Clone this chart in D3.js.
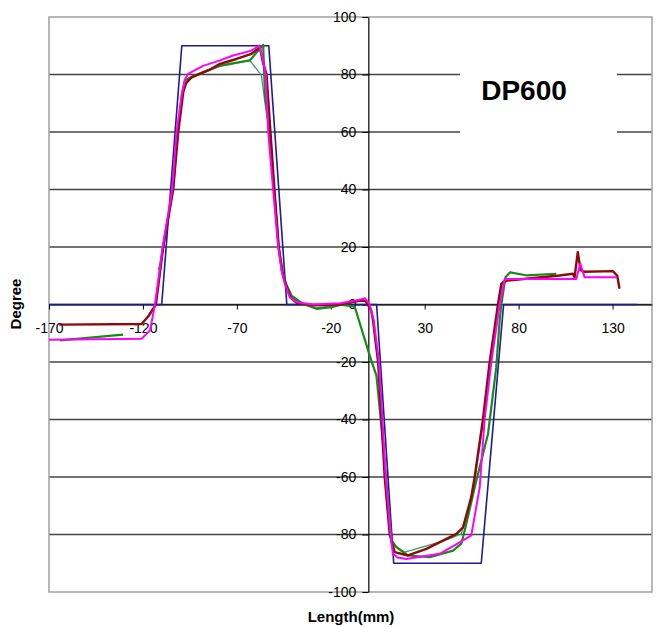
<!DOCTYPE html>
<html>
<head>
<meta charset="utf-8">
<script src="https://cdn.jsdelivr.net/npm/d3@7/dist/d3.min.js"></script>
<style>
  body { margin: 0; background: #fff; }
  svg { display: block; font-family: Arial, "Liberation Sans", sans-serif; }
</style>
</head>
<body>
<div id="chart"></div>
<script>
// ===========================
// DP600 angle profile (Degree vs Length)
// ===========================

const xTicks = [-170, -120, -70, -20, 30, 80, 130];
const yTicks = [-100, -80, -60, -40, -20, 0, 20, 40, 60, 80, 100];

// target shape
const blueData = [[-170, 0], [-110, 0], [-99.3, 90], [-53, 90], [-43.4, 0], [4.4, 0],
  [13.5, -90], [60.1, -90], [72, 0], [142.8, 0]];

const greenData = [[-164.1, -12.5], [-130.6, -10.5], null,
  [-111.5, 12], [-110.6, 14.3], [-108, 25], [-104, 40], [-101.5, 60], [-99, 74], [-97.7, 78],
  [-92.3, 79.7], [-79, 83.1], [-63.1, 84.9], [-56, 90.3], [-55, 72.7], [-52.5, 60],
  [-50.2, 40], [-47.8, 20], [-45.5, 11], [-43.9, 7.3], [-40.9, 3.1], [-34.7, 0.2],
  [-27.6, -1.5], [-19.6, -0.9], [-14.3, -0.1], [-7.3, -0.7], [0.7, -17.7], [3.4, -23],
  [4.3, -24.7], [7, -42.7], [10.5, -68.2], [12.3, -82], [14.9, -84.4], [21.1, -87.3],
  [32.7, -87.9], [45.1, -85.6], [49.5, -83.2], [51.3, -78.6], [57.5, -61.2], [63.7, -45],
  [68.1, -21.8], [69.9, -5.6], [70.8, 0], [73, 9.5], [75.5, 11.2], [84.5, 10.1], [100, 10.7]];

const green2Data = [[-97, 78], [-92, 79.5], [-79, 82.8], [-63.1, 84.9], [-56.9, 79.7],
  [-55, 70], [-52.8, 60], [-50.3, 40], [-47.9, 20], [-45.6, 11], [-44, 7], [-41, 2.8],
  [-36, 0.3], [-28, -1.2], [-20, -0.6], [-15, 0], [-4.6, 1.2], [-1.5, 1], [1.5, -2],
  [2.7, -6], [5.3, -20], [7.1, -40], [8.8, -60], [11, -78], [12.3, -83.3], [19.4, -86.1],
  [40.6, -82.1], [49.5, -79.8], [53, -72], [56.9, -60], [61.3, -40], [64.8, -20],
  [69.2, 0], [71.5, 8], [74, 9]];

const redData = [[-164.5, -7], [-120.7, -6.8], [-117, -4], [-113.1, 0], [-109.2, 20],
  [-103.9, 40], [-101.2, 60], [-98.5, 74], [-97, 77], [-94.1, 79], [-85, 81.5],
  [-79, 83.7], [-70.2, 85.4], [-62.2, 87.2], [-57.8, 89.5], [-56, 84], [-54.2, 80],
  [-52.1, 60], [-50, 40], [-47.7, 20], [-45.8, 11], [-44, 7], [-41.5, 2.5], [-38, 0.5],
  [-29, -0.3], [-15, 0], [-4.6, 1.4], [-1.5, 1.3], [1.5, -2], [2.5, -5.6], [5.2, -20],
  [7, -40], [8.7, -60], [11.4, -80], [14, -86.1], [21.1, -87.3], [30.9, -85],
  [46.9, -79.8], [50.4, -77.5], [54.8, -67], [56.6, -60], [61, -40], [64.6, -20], [69, 0],
  [70.8, 7.2], [73.5, 8.3], [101.8, 10.1], [108.9, 10.7], [109.8, 9.5], [111.5, 18.2],
  [113, 12], [114.5, 11.4], [130.2, 11.6], [132.5, 10], [133.7, 5.5]];

const magentaData = [[-170, -12.3], [-120.7, -11.9], [-116.2, -9], [-113.6, 0],
  [-109.5, 20], [-104.4, 40], [-102.1, 60], [-99.4, 72.7], [-97.5, 78.5], [-95.9, 80.2],
  [-88, 83], [-79, 84.9], [-72, 86.6], [-62.2, 88.3], [-58.1, 90.1], [-56, 85],
  [-54.7, 80], [-53.3, 60], [-50.7, 40], [-48, 20], [-46.2, 11.8], [-44.5, 7.3],
  [-41.8, 2.5], [-38.2, 0.8], [-29.4, 0], [-15, 0.4], [-5, 1.6], [-1.9, 2.2], [0.7, 0],
  [2.9, -5.6], [5.7, -20], [7.5, -40], [9.3, -60], [11.8, -80], [13.1, -86.7],
  [15.5, -88], [20.2, -88.5], [38, -86.7], [48.6, -82.7], [54.8, -80.3], [59.3, -63.5],
  [61.9, -40], [65.5, -20], [69.9, 0], [72.6, 8.9], [110.7, 8.9], [112.8, 14.2],
  [115.1, 9.5], [132, 9.5]];

(function () {
  const width = 658, height = 627;
  const left = 49, right = 652, top = 17, bottom = 592;

  const svg = d3.select("#chart").append("svg")
    .attr("width", width)
    .attr("height", height);

  const x = d3.scaleLinear().domain([-170, 151]).range([left, right]);
  const y = d3.scaleLinear().domain([-100, 100]).range([bottom, top]);

  // gridlines
  svg.append("g")
    .selectAll("line")
    .data(yTicks.filter(v => v > -100 && v < 100))
    .join("line")
    .attr("x1", left)
    .attr("x2", right)
    .attr("y1", d => y(d))
    .attr("y2", d => y(d))
    .style("stroke", "#444")
    .style("stroke-width", 1.3);

  // plot border
  svg.append("rect")
    .attr("x", left)
    .attr("y", top)
    .attr("width", right - left)
    .attr("height", bottom - top)
    .style("fill", "none")
    .style("stroke", "#a0a0a0")
    .style("stroke-width", 1.5);

  // title box covering the gridlines
  svg.append("rect")
    .attr("x", 460)
    .attr("y", 45)
    .attr("width", 157)
    .attr("height", 115)
    .style("fill", "#fff");

  svg.append("text")
    .attr("x", 524)
    .attr("y", 100)
    .attr("text-anchor", "middle")
    .text("DP600")
    .style("font-size", "28px")
    .style("font-weight", "bold")
    .style("fill", "#000");

  // axes (plain hyphen for negatives, like the original)
  const fmt = d => String(d);

  const xAxis = svg.append("g")
    .attr("transform", `translate(0,${y(0)})`)
    .call(d3.axisBottom(x).tickValues(xTicks).tickFormat(fmt)
      .tickSize(5).tickSizeOuter(0).tickPadding(14));

  const yAxis = svg.append("g")
    .attr("transform", `translate(${x(0)},0)`)
    .call(d3.axisLeft(y).tickValues(yTicks).tickFormat(fmt)
      .tickSize(6).tickSizeOuter(0).tickPadding(6));

  [xAxis, yAxis].forEach(g => {
    g.select(".domain").style("stroke", "#000").style("stroke-width", 1.2);
    g.selectAll(".tick line").style("stroke", "#000");
    g.selectAll(".tick text")
      .style("font-size", "14px")
      .style("font-family", "Arial, 'Liberation Sans', sans-serif")
      .style("fill", "#000");
  });

  // series
  const line = d3.line()
    .defined(d => d !== null)
    .x(d => x(d[0]))
    .y(d => y(d[1]));

  const series = [
    { data: blueData, color: "#1c1c96", w: 1.6 },
    { data: green2Data, color: "#3f9a6a", w: 1.3 },
    { data: greenData, color: "#178a17", w: 2.2 },
    { data: redData, color: "#8b0a0a", w: 2.4 },
    { data: magentaData, color: "#ff00ff", w: 2 }
  ];

  series.forEach(s => {
    svg.append("path")
      .datum(s.data)
      .attr("d", line)
      .style("fill", "none")
      .style("stroke", s.color)
      .style("stroke-width", s.w)
      .style("stroke-linejoin", "round");
  });

  // axis titles
  svg.append("text")
    .attr("transform", "translate(21,304) rotate(-90)")
    .attr("text-anchor", "middle")
    .text("Degree")
    .style("font-size", "15px")
    .style("font-weight", "bold");

  svg.append("text")
    .attr("x", 351)
    .attr("y", 622)
    .attr("text-anchor", "middle")
    .text("Length(mm)")
    .style("font-size", "15px")
    .style("font-weight", "bold");
})();
</script>
</body>
</html>
